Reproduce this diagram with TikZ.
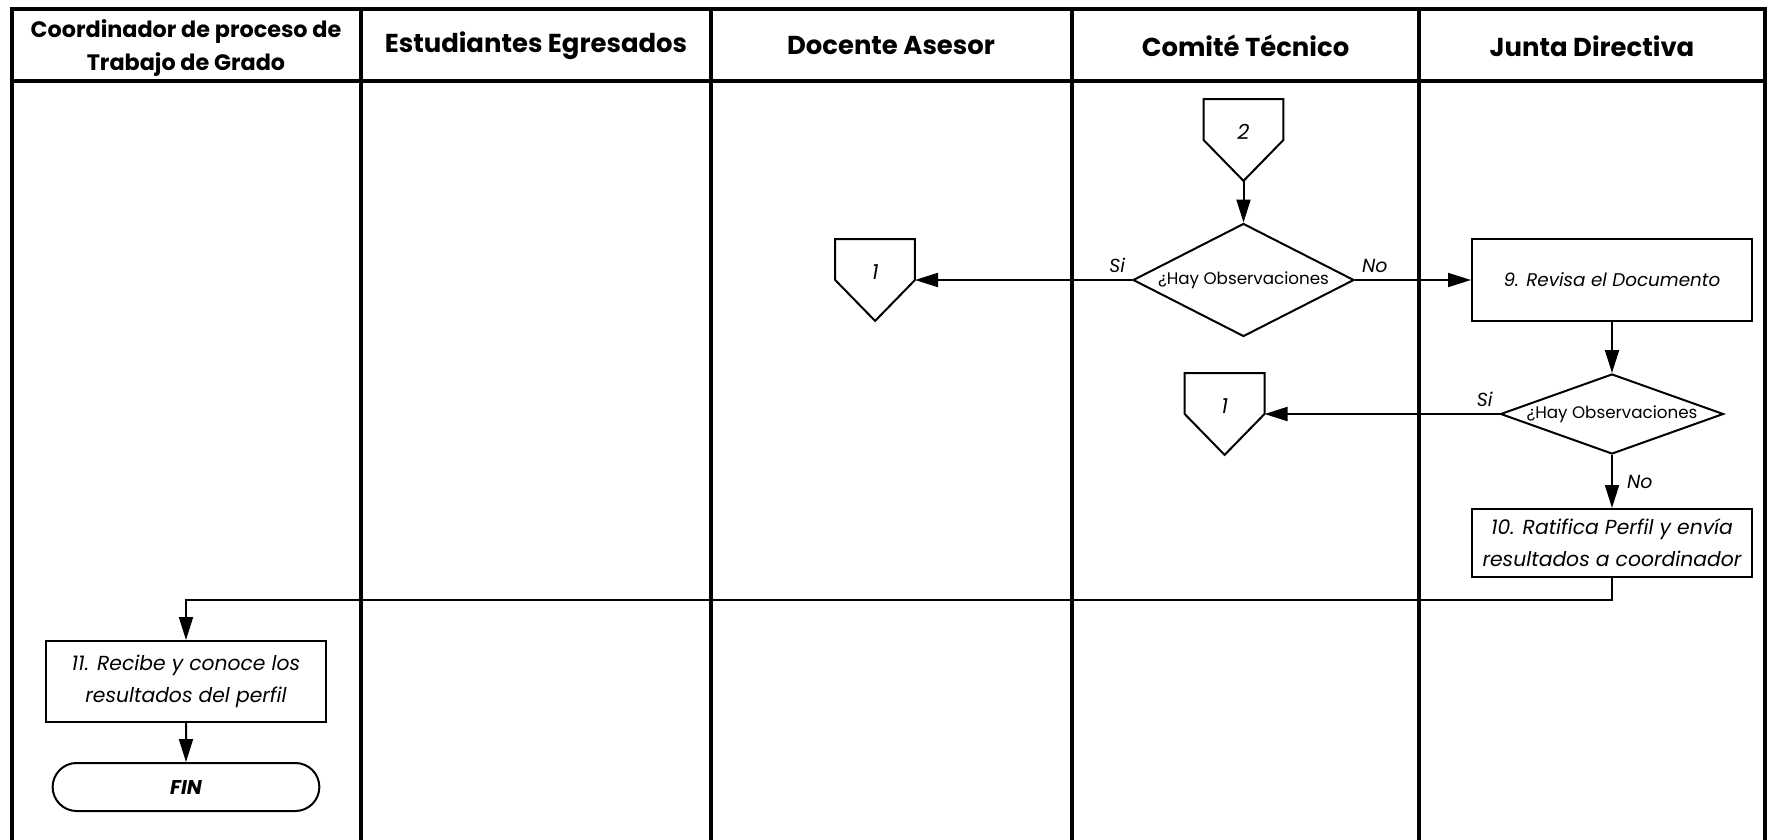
\documentclass[tikz,border=0pt]{standalone}
\usepackage{fontspec}
\setmainfont{Poppins}
\usepackage{tikz}
\usetikzlibrary{arrows.meta, positioning, shapes.geometric, shapes.misc}

\begin{document}
\begin{tikzpicture}[
    x=0.5bp, y=0.5bp,
    every node/.style={font=\fontsize{9}{15}\selectfont},
    lane/.style={line width=2bp},
    head/.style={font=\fontsize{13}{17}\selectfont\bfseries, align=center},
    box/.style={
        draw,
        line width=1bp,
        align=center,
        minimum width=140bp,
        inner sep=2pt,
        font=\fontsize{9.2}{15.5}\selectfont\itshape
    },
    bigbox/.style={box, font=\fontsize{10.2}{16}\selectfont\itshape},
    decision/.style={
        diamond,
        draw,
        line width=1bp,
        inner sep=0pt
    },
    question/.style={font=\fontsize{8.4}{10}\selectfont},
    offpage/.style={
        minimum width=39.5bp,
        minimum height=40.5bp,
        inner sep=0pt,
        text height=7bp,
        text depth=8bp,
        font=\fontsize{10.5}{12}\selectfont\itshape,
        append after command={\pgfextra{
            \draw[line width=1bp] (\tikzlastnode.east) -- (\tikzlastnode.north east)
                -- (\tikzlastnode.north west) -- (\tikzlastnode.west)
                -- (\tikzlastnode.south) -- cycle;}}
    },
    terminal/.style={
        rounded rectangle,
        draw,
        line width=1bp,
        minimum width=140bp,
        minimum height=24bp,
        font=\fontsize{10}{12}\selectfont\bfseries\itshape
    },
    tag/.style={font=\fontsize{9.5}{11}\selectfont\itshape, inner sep=3bp},
    arrow/.style={-{Triangle[length=11.5bp, width=7bp]}, line width=1bp}
]
\useasboundingbox (0,0) rectangle (1769,-840);

% swimlane frame
\draw[lane] (11.5,-850) -- (11.5,-9) -- (1765,-9) -- (1765,-850);
\draw[lane] (11.5,-81) -- (1765,-81);
\foreach \x in {361, 710.5, 1072, 1419}
    \draw[lane] (\x,-9) -- (\x,-850);

% lane titles
\node[head, font=\fontsize{11.2}{17}\selectfont\bfseries] (hcoord) at (186,-48)
    {Coordinador de proceso de\\Trabajo de Grado};
\node[head] (hest) at (536,-46) {Estudiantes Egresados};
\node[head] (hdoc) at (891,-46) {Docente Asesor};
\node[head] (hcom) at (1245.5,-46) {Comité Técnico};
\node[head] (hjun) at (1592,-46) {Junta Directiva};

% Comite Tecnico
\node[offpage] (in2) at (1243.5,-140) {2};
\node[decision, minimum width=110.5bp, minimum height=56.5bp,
      label={[question]center:¿Hay Observaciones}] (obs1) at (1243.5,-280) {};
\node[offpage, anchor=east] (out1a) at ([xshift=-108.5bp]obs1.west) {1};

% Junta Directiva
\node[box, minimum height=41bp] (revisa) at (1612,-280) {9. Revisa el Documento};
\node[decision, minimum width=111.5bp, minimum height=40bp, below=25.5bp of revisa,
      label={[question]center:¿Hay Observaciones}] (obs2) {};
\node[offpage, anchor=east] (out1b) at ([xshift=-117.5bp]obs2.west) {1};
\node[bigbox, minimum height=34bp, below=26.5bp of obs2] (ratifica)
    {10. Ratifica Perfil y envía\\resultados a coordinador};

% Coordinador
\node[bigbox, minimum height=40.5bp] (recibe) at (186,-681.5)
    {11. Recibe y conoce los\\resultados del perfil};
\node[terminal, below=19.5bp of recibe] (fin) {FIN};

\draw[arrow] (in2) -- (obs1);
\draw[arrow] (obs1.west) -- node[tag, pos=0, above left] {Si} (out1a.east);
\draw[arrow] (obs1.east) -- node[tag, pos=0, above right] {No} (revisa.west);
\draw[arrow] (revisa) -- (obs2);
\draw[arrow] (obs2.west) -- node[tag, pos=0, above left] {Si} (out1b.east);
\draw[arrow] (obs2) -- node[tag, right=4bp] {No} (ratifica);
\draw[arrow] (ratifica.south) -- ++(0,-22) -| (recibe.north);
\draw[arrow] (recibe) -- (fin);

\end{tikzpicture}
\end{document}
